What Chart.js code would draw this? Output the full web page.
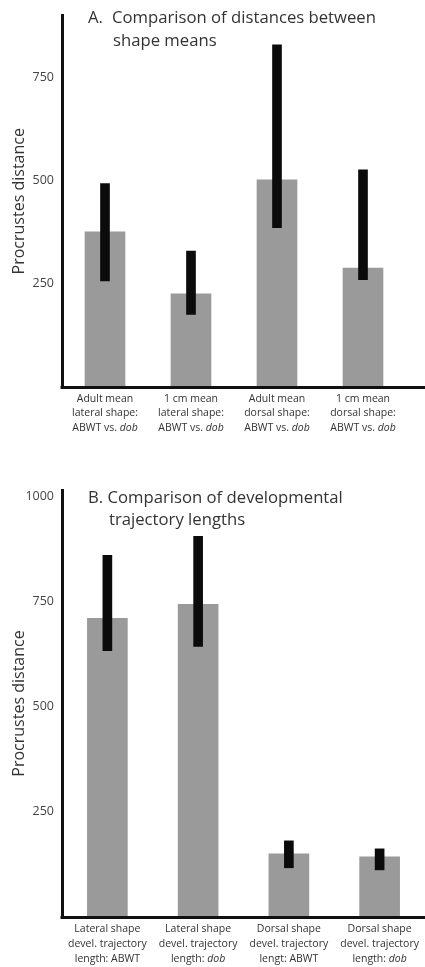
<!DOCTYPE html>
<html>
<head>
<meta charset="utf-8">
<script src="https://cdn.jsdelivr.net/npm/chart.js@4.4.0/dist/chart.umd.min.js"></script>
<style>
  body { margin: 0; background: #fff; }
  .panel { position: absolute; left: 0; width: 425px; }
  #panelA { top: 0; height: 440px; }
  #panelB { top: 440px; height: 527px; }
</style>
</head>
<body>
<div class="panel" id="panelA"><canvas id="chartA"></canvas></div>
<div class="panel" id="panelB"><canvas id="chartB"></canvas></div>
<script>
// ---- Panel A: distances between shape means ----
const categoriesA = [
  ['Adult mean', 'lateral shape:', 'ABWT vs. dob'],
  ['1 cm mean', 'lateral shape:', 'ABWT vs. dob'],
  ['Adult mean', 'dorsal shape:', 'ABWT vs. dob'],
  ['1 cm mean', 'dorsal shape:', 'ABWT vs. dob']
];
const meansA = [376, 226, 502, 288];
const errLowA = [257, 176, 386, 260];
const errHighA = [493, 329, 829, 526];
const yTicksA = [250, 500, 750];

// ---- Panel B: developmental trajectory lengths ----
const categoriesB = [
  ['Lateral shape', 'devel. trajectory', 'length: ABWT'],
  ['Lateral shape', 'devel. trajectory', 'length: dob'],
  ['Dorsal shape', 'devel. trajectory', 'lengt: ABWT'],
  ['Dorsal shape', 'devel. trajectory', 'length: dob']
];
const meansB = [710, 743, 150, 143];
const errLowB = [633, 643, 117, 112];
const errHighB = [860, 905, 181, 162];
const yTicksB = [250, 500, 750, 1000];

const italicWord = 'dob';
const FONT = '"Open Sans", "DejaVu Sans", sans-serif';

// draws the multi-line category labels, with "dob" in italics
const catLabels = {
  id: 'catLabels',
  afterDraw(chart, args, opts) {
    const ctx = chart.ctx;
    const xs = chart.scales.x;
    ctx.save();
    ctx.fillStyle = '#333';
    ctx.textBaseline = 'middle';
    ctx.textAlign = 'left';
    const plain = opts.size + 'px ' + FONT;
    const ital = 'italic ' + opts.size + 'px ' + FONT;
    chart.data.labels.forEach((lines, i) => {
      const cx = xs.getPixelForValue(i);
      lines.forEach((line, j) => {
        const y = chart.chartArea.bottom + opts.first + j * opts.lineHeight;
        let head = line, tail = '';
        const k = line.lastIndexOf(italicWord);
        if (k >= 0 && k + italicWord.length === line.length) {
          head = line.slice(0, k);
          tail = italicWord;
        }
        ctx.font = plain;
        const w1 = ctx.measureText(head).width;
        ctx.font = ital;
        const w2 = ctx.measureText(tail).width;
        let x = cx - (w1 + w2) / 2;
        ctx.font = plain;
        ctx.fillText(head, x, y);
        ctx.font = ital;
        ctx.fillText(tail, x + w1, y);
      });
    });
    ctx.restore();
  }
};

// panel heading inside the plot, and the x axis line run out to the page edge
const panelTitle = {
  id: 'panelTitle',
  afterDraw(chart, args, opts) {
    const ctx = chart.ctx;
    const area = chart.chartArea;
    ctx.save();
    ctx.strokeStyle = '#111';
    ctx.lineWidth = 3;
    ctx.beginPath();
    ctx.moveTo(area.left - 1.5, Math.round(area.bottom) + 0.5);
    ctx.lineTo(chart.width, Math.round(area.bottom) + 0.5);
    ctx.stroke();
    ctx.fillStyle = '#333';
    ctx.font = '16.7px ' + FONT;
    ctx.textBaseline = 'middle';
    ctx.textAlign = 'left';
    opts.lines.forEach(l => ctx.fillText(l.text, l.x, l.y));
    ctx.restore();
  }
};

function makeChart(id, cats, means, lows, highs, ticks, yMax, cfg) {
  return new Chart(document.getElementById(id), {
    type: 'bar',
    data: {
      labels: cats,
      datasets: [{
        label: 'Range',
        data: lows.map((v, i) => [v, highs[i]]),
        backgroundColor: '#0b0b0b',
        barThickness: 9,
        grouped: false,
        order: 0
      }, {
        label: 'Procrustes distance',
        data: means,
        backgroundColor: '#9a9a9a',
        barThickness: 40,
        grouped: false,
        order: 1
      }]
    },
    options: {
      responsive: true,
      maintainAspectRatio: false,
      animation: false,
      layout: { padding: { top: cfg.padTop, right: cfg.padRight, left: 0, bottom: 0 } },
      plugins: {
        legend: { display: false },
        tooltip: { enabled: false },
        catLabels: { size: 10.5, first: 12, lineHeight: cfg.lineHeight },
        panelTitle: { lines: cfg.title }
      },
      scales: {
        x: {
          grid: { display: false },
          border: { display: false },
          ticks: { display: false },
          afterFit: s => { s.height = cfg.xHeight; }
        },
        y: {
          min: 0,
          max: yMax,
          grid: { display: false, drawTicks: false },
          border: { color: '#111', width: 3 },
          afterBuildTicks: s => { s.ticks = ticks.map(v => ({ value: v })); },
          ticks: {
            padding: 8,
            color: '#444',
            font: { family: FONT, size: 12.5 },
            callback: v => String(v)
          },
          title: {
            display: true,
            text: 'Procrustes distance',
            color: '#333',
            font: { family: FONT, size: 16 },
            padding: { top: 10, bottom: 0 }
          },
          afterFit: s => { s.width = 62; }
        }
      }
    },
    plugins: [catLabels, panelTitle]
  });
}

makeChart('chartA', categoriesA, meansA, errLowA, errHighA, yTicksA, 900, {
  padTop: 8, padRight: 19, xHeight: 53, lineHeight: 14.5,
  title: [
    { text: 'A.', x: 88, y: 18 },
    { text: 'Comparison of distances between', x: 112, y: 18 },
    { text: 'shape means', x: 113, y: 41 }
  ]
});

makeChart('chartB', categoriesB, meansB, errLowB, errHighB, yTicksB, 1015, {
  padTop: 50, padRight: 0, xHeight: 50, lineHeight: 15,
  title: [
    { text: 'B. Comparison of developmental', x: 88, y: 58 },
    { text: 'trajectory lengths', x: 109, y: 80 }
  ]
});
</script>
</body>
</html>
